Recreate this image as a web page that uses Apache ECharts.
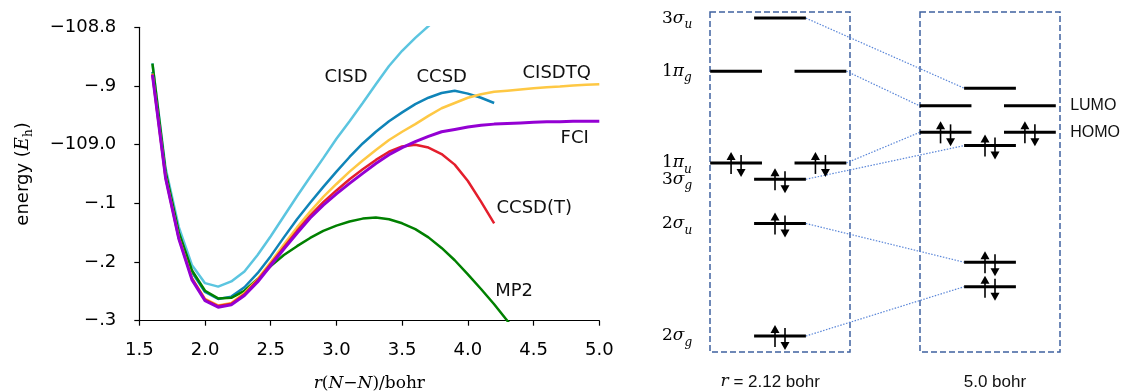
<!DOCTYPE html>
<html>
<head>
<meta charset="utf-8">
<script src="https://cdn.jsdelivr.net/npm/echarts@6.0.0/dist/echarts.min.js"></script>
<style>
  html, body { margin: 0; padding: 0; background: #fff; }
  #chart { width: 1122px; height: 392px; }
</style>
</head>
<body>
<div id="chart"></div>
<script>
// N2 potential energy curves (bohr, hartree)
var bondLength = [1.6, 1.7, 1.8, 1.9, 2.0, 2.1, 2.2, 2.3, 2.4, 2.5, 2.6, 2.7, 2.8, 2.9, 3.0, 3.1, 3.2, 3.3,
  3.4, 3.5, 3.6, 3.7, 3.8, 3.9, 4.0, 4.1, 4.2, 4.3, 4.4, 4.5, 4.6, 4.7, 4.8, 4.9, 5.0];

var cisd = [-108.861, -109.040, -109.140, -109.205, -109.236, -109.242, -109.233, -109.216, -109.188,
  -109.156, -109.122, -109.088, -109.055, -109.023, -108.990, -108.960, -108.929, -108.897, -108.866,
  -108.840, -108.818, -108.798, -108.778];
var ccsd = [-108.876, -109.050, -109.151, -109.217, -109.251, -109.263, -109.259, -109.243, -109.219,
  -109.190, -109.158, -109.127, -109.099, -109.072, -109.046, -109.021, -108.998, -108.978, -108.960,
  -108.945, -108.931, -108.920, -108.912, -108.908, -108.913, -108.920, -108.929];
var ccsdT = [-108.880, -109.056, -109.159, -109.228, -109.264, -109.275, -109.271, -109.255, -109.231,
  -109.203, -109.175, -109.147, -109.121, -109.098, -109.078, -109.059, -109.042, -109.026, -109.012,
  -109.003, -109.000, -109.005, -109.016, -109.034, -109.062, -109.097, -109.134];
var cisdtq = [-108.879, -109.055, -109.158, -109.227, -109.263, -109.274, -109.270, -109.253, -109.229,
  -109.200, -109.170, -109.141, -109.114, -109.089, -109.067, -109.046, -109.027, -109.009, -108.992,
  -108.978, -108.965, -108.951, -108.938, -108.929, -108.920, -108.914, -108.910, -108.908, -108.906,
  -108.904, -108.902, -108.901, -108.899, -108.898, -108.897];
var fci = [-108.881, -109.057, -109.160, -109.230, -109.266, -109.277, -109.273, -109.257, -109.234,
  -109.206, -109.178, -109.151, -109.125, -109.103, -109.084, -109.066, -109.049, -109.032, -109.017,
  -109.005, -108.995, -108.986, -108.978, -108.974, -108.970, -108.967, -108.965, -108.964, -108.963,
  -108.962, -108.961, -108.961, -108.960, -108.960, -108.960];
var mp2 = [-108.862, -109.046, -109.149, -109.214, -109.249, -109.262, -109.261, -109.249, -109.229,
  -109.207, -109.188, -109.173, -109.159, -109.147, -109.138, -109.131, -109.126, -109.124, -109.127,
  -109.134, -109.144, -109.158, -109.176, -109.197, -109.221, -109.246, -109.272, -109.300, -109.329];

var yTickLabels = ['\u2212.3', '\u2212.2', '\u2212.1', '\u2212109.0', '\u2212.9', '\u2212108.8'];

// curve annotations: text, r, E
var curveNames = ['CISD', 'CCSD', 'CISDTQ', 'FCI', 'CCSD(T)', 'MP2'];
var curveNameX = [3.073, 3.801, 4.676, 4.813, 4.505, 4.352];
var curveNameY = [-108.8855, -108.8855, -108.878, -108.990, -109.108, -109.2496];

// MO diagram (schematic energies, 0..100 inside each frame)
var moDigit = ['3', '1', '1', '3', '2', '2'];
var moGreek = ['\u03c3', '\u03c0', '\u03c0', '\u03c3', '\u03c3', '\u03c3'];
var moParity = ['u', 'g', 'u', 'g', 'u', 'g'];
var levelNear = [98.2, 82.6, 55.6, 50.8, 37.8, 4.7];   // r = 2.12 bohr
var levelFar = [77.6, 72.4, 64.6, 60.7, 26.4, 19.2];   // r = 5.0 bohr
var degeneracy = [1, 2, 2, 1, 1, 1];
var electronPairs = [0, 0, 1, 1, 1, 1];
var frontierLabels = ['', 'LUMO', 'HOMO', '', '', ''];
var panelCaptions = ['{i|r}{t| = 2.12 bohr}', '{t|5.0 bohr}'];

var panelX = [[0, 4], [6, 10]];
var sigmaX = [2.0, 8.0];
var piX = [[0.745, 3.155], [6.73, 9.14]];
var halfWidth = 0.74;
var moLabelX = -1.37;
var frontierX = 10.29;
var captionX = [1.72, 8.14];
var captionY = -8.8;

var chart = echarts.init(document.getElementById('chart'));

function pairs(ys) {
  var out = [];
  for (var i = 0; i < ys.length; i++) out.push([bondLength[i], ys[i]]);
  return out;
}

function curve(name, ys, color, width) {
  return {
    name: name, type: 'line', data: pairs(ys), xAxisIndex: 0, yAxisIndex: 0,
    symbol: 'none', clip: true,
    lineStyle: { color: color, width: width }
  };
}

// build MO diagram data
var levels = [], connectors = [], electrons = [], moLabels = [], frontier = [];
for (var i = 0; i < moDigit.length; i++) {
  var ys = [levelNear[i], levelFar[i]];
  var ends = [];
  for (var p = 0; p < 2; p++) {
    var centers = degeneracy[i] === 2 ? piX[p] : [sigmaX[p]];
    for (var c = 0; c < centers.length; c++) {
      levels.push([centers[c], ys[p]]);
      if (electronPairs[i]) electrons.push([centers[c], ys[p]]);
    }
    ends.push(p === 0 ? centers[centers.length - 1] + halfWidth : centers[0] - halfWidth);
  }
  connectors.push([ends[0], ys[0], ends[1], ys[1]]);
  moLabels.push([moLabelX, levelNear[i]]);
  if (frontierLabels[i]) frontier.push({ value: [frontierX, levelFar[i]], name: frontierLabels[i] });
}

var moRich = {
  d: { fontFamily: 'DejaVu Serif', fontSize: 17, lineHeight: 26, fill: '#000' },
  g: { fontFamily: 'DejaVu Serif', fontStyle: 'italic', fontSize: 17, lineHeight: 26, fill: '#000' },
  s: { fontFamily: 'DejaVu Serif', fontStyle: 'italic', fontSize: 12, lineHeight: 14, verticalAlign: 'bottom', fill: '#000' }
};

var option = {
  animation: false,
  backgroundColor: '#fff',
  grid: [
    { left: 139.3, right: 522.7, top: 27.3, bottom: 71.3, containLabel: false, outerBoundsMode: 'none' },
    { left: 710, width: 350, top: 12, height: 340, containLabel: false, outerBoundsMode: 'none' }
  ],
  xAxis: [
    {
      gridIndex: 0, type: 'value', min: 1.5, max: 5.0, interval: 0.5,
      name: '{i|r}{n|(}{i|N}{n|\u2212}{i|N}{n|)/bohr}',
      nameLocation: 'middle', nameGap: 54,
      nameTextStyle: {
        rich: {
          i: { fontFamily: 'DejaVu Serif', fontStyle: 'italic', fontSize: 17, color: '#000' },
          n: { fontFamily: 'DejaVu Serif', fontSize: 17, color: '#000' }
        }
      },
      axisLine: { show: true, onZero: false, lineStyle: { color: '#000', width: 1.2 } },
      axisTick: { show: true, length: 5, lineStyle: { color: '#000', width: 1.2 } },
      axisLabel: {
        fontFamily: 'DejaVu Sans', fontSize: 18, color: '#000', margin: 21,
        formatter: function (v) { return v.toFixed(1); }
      },
      splitLine: { show: false }
    },
    { gridIndex: 1, type: 'value', min: 0, max: 10, show: false }
  ],
  yAxis: [
    {
      gridIndex: 0, type: 'value', min: -109.3, max: -108.8, interval: 0.1,
      name: '{t|energy (}{e|E}{h|h}{t|)}',
      nameLocation: 'middle', nameGap: 104, nameRotate: 90,
      nameTextStyle: {
        rich: {
          t: { fontFamily: 'DejaVu Sans', fontSize: 18, color: '#000', lineHeight: 24 },
          e: { fontFamily: 'DejaVu Serif', fontStyle: 'italic', fontSize: 18, color: '#000', lineHeight: 24 },
          h: { fontFamily: 'DejaVu Serif', fontSize: 12, color: '#000', lineHeight: 14, verticalAlign: 'bottom' }
        }
      },
      axisLine: { show: true, onZero: false, lineStyle: { color: '#000', width: 1.2 } },
      axisTick: { show: true, length: 5, lineStyle: { color: '#000', width: 1.2 } },
      axisLabel: {
        fontFamily: 'DejaVu Sans', fontSize: 18, color: '#000', margin: 23,
        formatter: function (v) { return yTickLabels[Math.round((v + 109.3) * 10)]; }
      },
      splitLine: { show: false }
    },
    { gridIndex: 1, type: 'value', min: 0, max: 100, show: false }
  ],
  series: [
    curve('CISD', cisd, '#5bc5e0', 2.5),
    curve('CCSD', ccsd, '#0f84b8', 2.5),
    curve('MP2', mp2, '#008000', 2.5),
    curve('CISDTQ', cisdtq, '#fec844', 2.5),
    curve('CCSD(T)', ccsdT, '#e41e2c', 2.5),
    curve('FCI', fci, '#9400d3', 3),
    {
      type: 'custom', xAxisIndex: 0, yAxisIndex: 0,
      data: curveNameX.map(function (x, k) { return [x, curveNameY[k]]; }),
      renderItem: function (params, api) {
        var pt = api.coord([api.value(0), api.value(1)]);
        return {
          type: 'text', x: pt[0], y: pt[1],
          style: {
            text: curveNames[params.dataIndex], align: 'center', verticalAlign: 'middle',
            fontFamily: 'DejaVu Sans', fontSize: 18, fill: '#111'
          }
        };
      }
    },
    // dashed frames
    {
      type: 'custom', xAxisIndex: 1, yAxisIndex: 1, data: panelX,
      renderItem: function (params, api) {
        var a = api.coord([api.value(0), 100]);
        var b = api.coord([api.value(1), 0]);
        return {
          type: 'rect', shape: { x: a[0], y: a[1], width: b[0] - a[0], height: b[1] - a[1] },
          style: { fill: 'none', stroke: '#3f62a0', lineWidth: 1.5, lineDash: [6, 3] }
        };
      }
    },
    // correlation lines
    {
      type: 'custom', xAxisIndex: 1, yAxisIndex: 1, data: connectors,
      renderItem: function (params, api) {
        var a = api.coord([api.value(0), api.value(1)]);
        var b = api.coord([api.value(2), api.value(3)]);
        return {
          type: 'line', shape: { x1: a[0], y1: a[1], x2: b[0], y2: b[1] },
          style: { stroke: '#5a86d8', lineWidth: 1.2, lineDash: [1.5, 1.5] }
        };
      }
    },
    // orbital levels
    {
      type: 'custom', xAxisIndex: 1, yAxisIndex: 1, data: levels,
      renderItem: function (params, api) {
        var a = api.coord([api.value(0) - halfWidth, api.value(1)]);
        var b = api.coord([api.value(0) + halfWidth, api.value(1)]);
        return {
          type: 'line', shape: { x1: a[0], y1: a[1], x2: b[0], y2: b[1] },
          style: { stroke: '#000', lineWidth: 3 }
        };
      }
    },
    // electron pairs
    {
      type: 'custom', xAxisIndex: 1, yAxisIndex: 1, data: electrons,
      renderItem: function (params, api) {
        var pt = api.coord([api.value(0), api.value(1)]);
        var y = pt[1], up = pt[0] - 5, dn = pt[0] + 5;
        return {
          type: 'group',
          children: [
            { type: 'line', shape: { x1: up, y1: y + 11, x2: up, y2: y - 4 }, style: { stroke: '#000', lineWidth: 1.6 } },
            { type: 'polygon', shape: { points: [[up, y - 11], [up - 4.5, y - 3], [up + 4.5, y - 3]] }, style: { fill: '#000' } },
            { type: 'line', shape: { x1: dn, y1: y - 8, x2: dn, y2: y + 7 }, style: { stroke: '#000', lineWidth: 1.6 } },
            { type: 'polygon', shape: { points: [[dn, y + 14], [dn - 4.5, y + 6], [dn + 4.5, y + 6]] }, style: { fill: '#000' } }
          ]
        };
      }
    },
    // orbital names
    {
      type: 'custom', xAxisIndex: 1, yAxisIndex: 1, data: moLabels,
      renderItem: function (params, api) {
        var pt = api.coord([api.value(0), api.value(1)]);
        var k = params.dataIndex;
        return {
          type: 'text', x: pt[0], y: pt[1],
          style: {
            text: '{d|' + moDigit[k] + '}{g|' + moGreek[k] + '}{s|' + moParity[k] + '}',
            rich: moRich, align: 'left', verticalAlign: 'middle'
          }
        };
      }
    },
    // HOMO / LUMO
    {
      type: 'custom', xAxisIndex: 1, yAxisIndex: 1, data: frontier,
      renderItem: function (params, api) {
        var pt = api.coord([api.value(0), api.value(1)]);
        return {
          type: 'text', x: pt[0], y: pt[1],
          style: {
            text: frontier[params.dataIndex].name, align: 'left', verticalAlign: 'middle',
            fontFamily: 'Liberation Sans', fontSize: 16, fill: '#111'
          }
        };
      }
    },
    // captions
    {
      type: 'custom', xAxisIndex: 1, yAxisIndex: 1,
      data: captionX.map(function (x) { return [x, captionY]; }),
      renderItem: function (params, api) {
        var pt = api.coord([api.value(0), api.value(1)]);
        return {
          type: 'text', x: pt[0], y: pt[1],
          style: {
            text: panelCaptions[params.dataIndex], align: 'center', verticalAlign: 'middle',
            rich: {
              i: { fontFamily: 'DejaVu Serif', fontStyle: 'italic', fontSize: 17, fill: '#111' },
              t: { fontFamily: 'Liberation Sans', fontSize: 17, fill: '#111' }
            }
          }
        };
      }
    }
  ]
};

chart.setOption(option);
</script>
</body>
</html>
